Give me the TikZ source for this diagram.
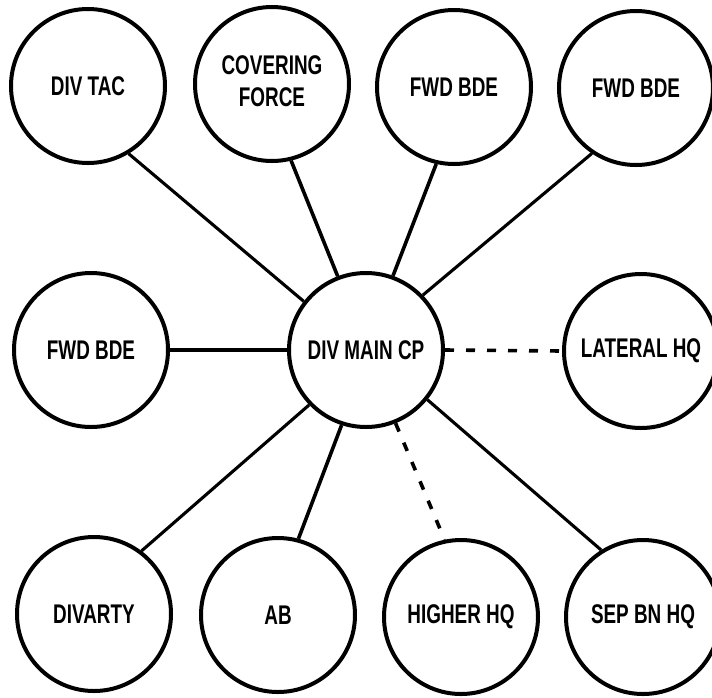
\documentclass[tikz,border=0pt]{standalone}
\usepackage{fontspec}
\newfontfamily\lblfont{Liberation Sans}[FakeStretch=0.70]
\begin{document}
\begin{tikzpicture}[x=1pt,y=-1pt,
  hq/.style={circle, draw, line width=4pt, minimum size=154pt, inner sep=0pt,
             font=\lblfont\bfseries\fontsize{27}{32}\selectfont, align=center},
  link/.style={line width=3.1pt},
  heavylink/.style={line width=3.6pt},
  dashlink/.style={line width=3.6pt, dash pattern=on 9pt off 12pt}]
  % canvas, clipped so the outer circles run off the edges
  \clip (0,0) rectangle (712,697);
  \fill[white] (0,0) rectangle (712,697);

  % top row
  \node[hq] (divtac) at (88,86)  {DIV TAC};
  \node[hq] (cover)  at (272,84)
    {\raisebox{-6pt}{\begin{tabular}{@{}c@{}}COVERING\\FORCE\end{tabular}}};
  \node[hq] (fwda)   at (454,87) {FWD BDE};
  \node[hq] (fwdb)   at (636,88) {FWD BDE};

  % middle row
  \node[hq] (fwdl)    at (91,350)  {FWD BDE};
  \node[hq] (main)    at (366,350) {DIV MAIN CP};
  \node[hq] (lateral) at (641,351) {LATERAL HQ};

  % bottom row
  \node[hq] (divarty) at (94,614)  {DIVARTY};
  \node[hq] (ab)      at (278,615) {AB};
  \node[hq] (higher)  at (461,617) {HIGHER HQ};
  \node[hq] (sepbn)   at (643,617) {SEP BN HQ};

  % command links
  \draw[link]      (main.142.7) -- (divtac.301.7);
  \draw[heavylink] (main.111.4) -- (cover.284.5);
  \draw[heavylink] (main.70.7)  -- (fwda.257.4);
  \draw[link]      (main.44)    -- (fwdb.236.7);
  \draw[link]      (main.west)  -- (fwdl.east);
  \draw[link]      (main.224.5) -- (divarty.53.8);
  \draw[heavylink] (main.252.7) -- (ab.75.6);
  \draw[link]      (main.321)   -- (sepbn.122.7);

  % liaison links
  \draw[dashlink] (main.east)  -- (lateral.west);
  \draw[dashlink] (main.292.5) -- (higher.102.8);
\end{tikzpicture}
\end{document}
